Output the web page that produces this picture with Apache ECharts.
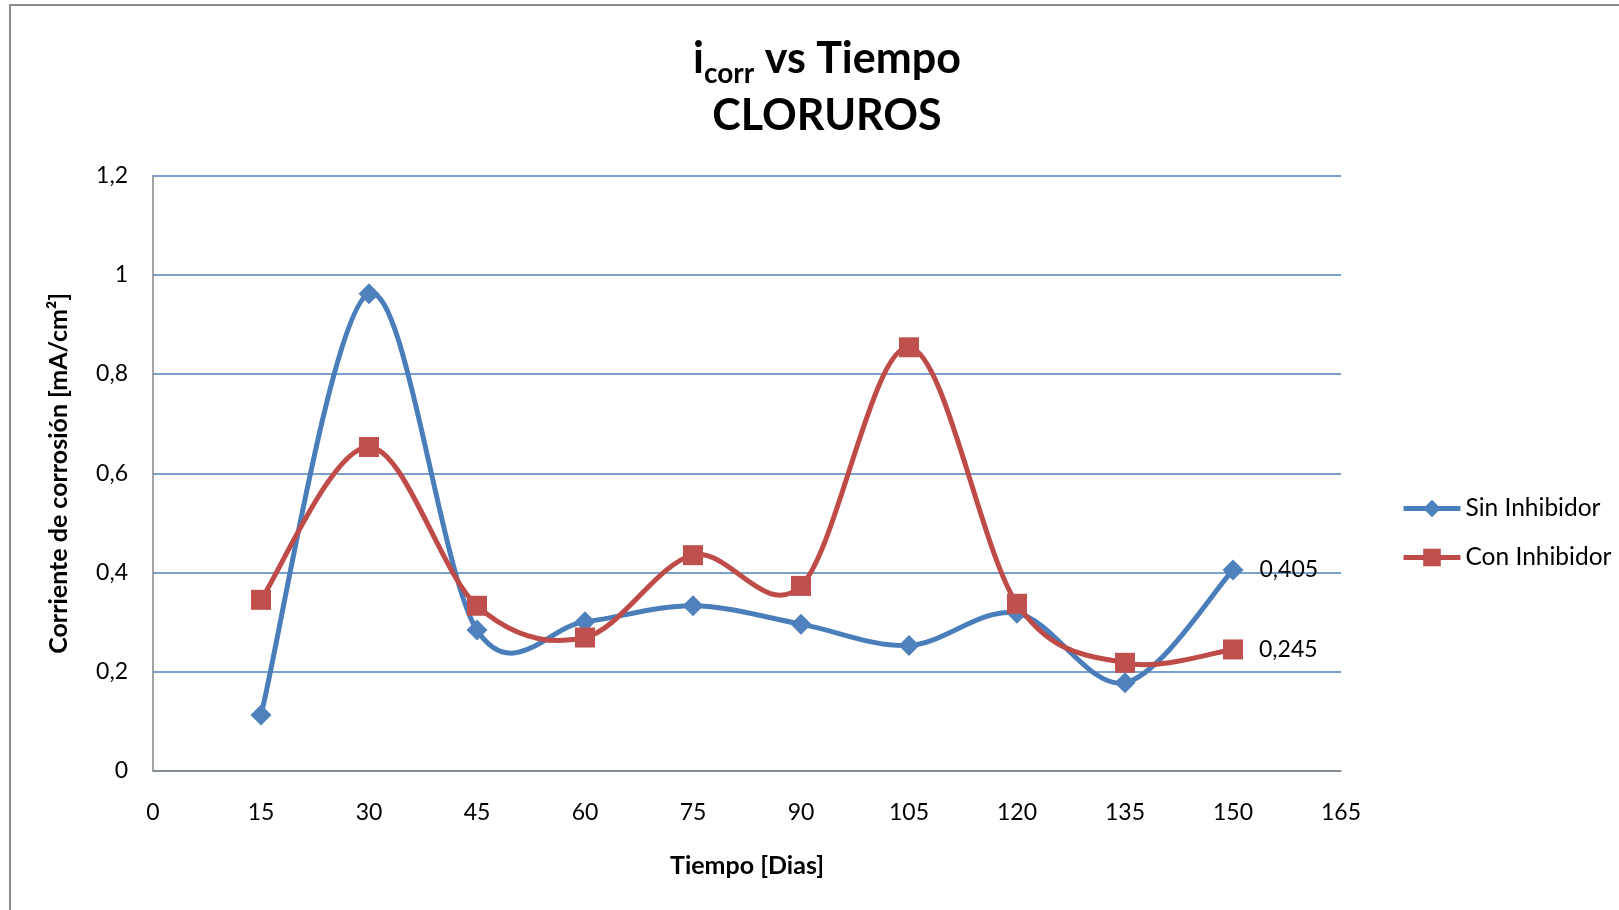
<!DOCTYPE html>
<html>
<head>
<meta charset="utf-8">
<script src="https://cdn.jsdelivr.net/npm/echarts@6/dist/echarts.min.js"></script>
<style>
  html, body { margin: 0; padding: 0; background: #fff; }
  #chart { width: 1619px; height: 910px; }
</style>
</head>
<body>
<div id="chart"></div>
<script>
// Tiempo en días
const dias = [15, 30, 45, 60, 75, 90, 105, 120, 135, 150];
// Corriente de corrosión [mA/cm²]
const sinInhibidor = [0.113, 0.962, 0.284, 0.301, 0.333, 0.296, 0.253, 0.318, 0.178, 0.405];
const conInhibidor = [0.345, 0.653, 0.333, 0.269, 0.435, 0.373, 0.854, 0.337, 0.218, 0.245];

const FONT = 'Lato';
const AZUL = '#4a7ebb', AZUL_MARCA = '#4f81bd';
const ROJO = '#be4b48', ROJO_MARCA = '#c0504d';
const GROSOR = 5;

const fmt = v => String(+v.toFixed(3)).replace('.', ',');
const pairs = (xs, ys) => xs.map((x, i) => [x, ys[i]]);

// Smoothed curve (Catmull-Rom style cubic Béziers, tangent = (next - prev) / 6),
// with every point placed through the cartesian axes.
function curva(ys, color, z) {
  return {
    type: 'custom',
    name: 'curva',
    coordinateSystem: 'cartesian2d',
    data: [[dias[0], ys[0]]],
    silent: true,
    clip: false,
    z: z,
    renderItem: function (params, api) {
      const p = dias.map((x, i) => api.coord([x, ys[i]]));
      const n = p.length;
      const children = [];
      for (let i = 0; i < n - 1; i++) {
        const p0 = p[Math.max(i - 1, 0)], p1 = p[i], p2 = p[i + 1], p3 = p[Math.min(i + 2, n - 1)];
        children.push({
          type: 'bezierCurve',
          shape: {
            x1: p1[0], y1: p1[1],
            cpx1: p1[0] + (p2[0] - p0[0]) / 6, cpy1: p1[1] + (p2[1] - p0[1]) / 6,
            cpx2: p2[0] - (p3[0] - p1[0]) / 6, cpy2: p2[1] - (p3[1] - p1[1]) / 6,
            x2: p2[0], y2: p2[1]
          },
          style: { fill: null, stroke: color, lineWidth: GROSOR, lineCap: 'round', lineJoin: 'round' }
        });
      }
      return { type: 'group', children: children };
    }
  };
}

function marcas(name, ys, symbol, size, color, lineColor, z) {
  return {
    name: name,
    type: 'line',
    data: pairs(dias, ys),
    symbol: symbol,
    symbolSize: size,
    showAllSymbol: true,
    lineStyle: { color: lineColor, width: 0, opacity: 0 },
    itemStyle: { color: color },
    label: {
      show: true,
      position: 'right',
      distance: 16,
      fontFamily: FONT, fontSize: 23, color: '#000',
      formatter: p => p.dataIndex === dias.length - 1 ? fmt(p.value[1]) : ''
    },
    z: z
  };
}

const chart = echarts.init(document.getElementById('chart'));
chart.setOption({
  animation: false,
  backgroundColor: '#ffffff',
  graphic: [{
    type: 'rect',
    shape: { x: 10, y: 5, width: 1640, height: 940 },
    style: { fill: 'none', stroke: '#8c8c8c', lineWidth: 2 },
    silent: true
  }],
  title: {
    left: 822,
    textAlign: 'center',
    top: 26,
    text: '{a|i}{b|corr}{a| vs Tiempo}\n{a|CLORUROS}',
    textStyle: {
      rich: {
        a: { fontFamily: FONT, fontWeight: 'bold', fontSize: 43, color: '#000', lineHeight: 57 },
        b: { fontFamily: FONT, fontWeight: 'bold', fontSize: 28, color: '#000', lineHeight: 57, verticalAlign: 'bottom', padding: [18, 0, 0, 0] }
      }
    }
  },
  grid: { left: 153, right: 278, top: 175.6, bottom: 139, containLabel: false },
  legend: {
    orient: 'vertical',
    left: 1396,
    top: 491,
    itemWidth: 57,
    itemHeight: 22,
    itemGap: 24,
    textStyle: { fontFamily: FONT, fontSize: 24.5, color: '#000' },
    data: [
      { name: 'Sin Inhibidor', lineStyle: { color: AZUL, width: GROSOR, opacity: 1 } },
      { name: 'Con Inhibidor', lineStyle: { color: ROJO, width: GROSOR, opacity: 1 } }
    ]
  },
  xAxis: {
    type: 'value',
    min: 0, max: 165, interval: 15,
    name: 'Tiempo [Dias]',
    nameLocation: 'middle',
    nameGap: 82,
    nameTextStyle: { fontFamily: FONT, fontWeight: 'bold', fontSize: 25, color: '#000' },
    axisLine: { lineStyle: { color: '#868686', width: 1.5 } },
    axisTick: { show: false },
    splitLine: { show: false },
    axisLabel: { fontFamily: FONT, fontSize: 23, color: '#000', margin: 30 }
  },
  yAxis: {
    type: 'value',
    min: 0, max: 1.2, interval: 0.2,
    name: 'Corriente de corrosión [mA/cm²]',
    nameLocation: 'middle',
    nameGap: 82,
    nameTextStyle: { fontFamily: FONT, fontWeight: 'bold', fontSize: 25, color: '#000' },
    axisLine: { show: true, lineStyle: { color: '#868686', width: 1.5 } },
    axisTick: { show: false },
    splitLine: { lineStyle: { color: '#4f81bd', width: 1.6 } },
    axisLabel: { fontFamily: FONT, fontSize: 23, color: '#000', margin: 25, formatter: fmt }
  },
  series: [
    curva(sinInhibidor, AZUL, 2),
    marcas('Sin Inhibidor', sinInhibidor, 'diamond', 21, AZUL_MARCA, AZUL, 3),
    curva(conInhibidor, ROJO, 4),
    marcas('Con Inhibidor', conInhibidor, 'rect', 20, ROJO_MARCA, ROJO, 5)
  ]
});
</script>
</body>
</html>
